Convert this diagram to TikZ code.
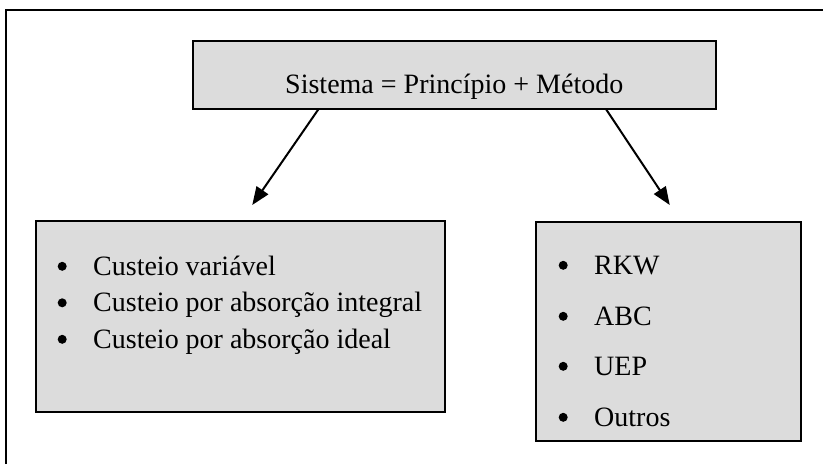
\documentclass[tikz,border=0pt]{standalone}
\usepackage{fontspec}
\setmainfont{Liberation Serif}
\usetikzlibrary{arrows.meta}

\definecolor{cinza}{RGB}{220,220,220}
\newcommand{\marca}{\makebox[36pt][l]{\hspace{0.5pt}\tikz[baseline=-8.7pt]\fill (0,0) circle (4.5pt);}}
\tikzset{
  caixa/.style={draw, line width=1.5pt, fill=cinza, inner sep=0pt, anchor=north west},
  linha/.style={anchor=base west, inner sep=0pt, font=\fontsize{28}{34}\selectfont},
  seta/.style={-{Triangle[length=18pt,width=14pt]}, line width=2pt}
}

\begin{document}
\begin{tikzpicture}[x=1pt,y=-1pt]
\useasboundingbox (0,0) rectangle (823,464);
% moldura
\draw[line width=2pt] (5.5,464) -- (5.5,9.5) -- (823,9.5);
% caixas
\node[caixa, minimum width=523pt, text height=53pt, text depth=15pt,
  font=\fontsize{28}{34}\selectfont] (sistema) at (192,40) {Sistema = Princípio + Método};
\node[caixa, minimum width=409pt, minimum height=191pt] (principio) at (35,220) {};
\node[caixa, minimum width=265pt, minimum height=219pt] (metodo) at (535,221) {};
% itens
\node[linha] (variavel) at (57,275) {\marca Custeio variável};
\node[linha] (integral) at (57,311.5) {\marca Custeio por absorção integral};
\node[linha] (ideal) at (57,348) {\marca Custeio por absorção ideal};
\node[linha] (rkw) at (558,274) {\marca RKW};
\node[linha] (abc) at (558,325) {\marca ABC};
\node[linha] (uep) at (558,375) {\marca UEP};
\node[linha] (outros) at (558,426) {\marca Outros};
% setas
\draw[seta] ([xshift=-136pt]sistema.south) -- ([xshift=12pt,yshift=15pt]principio.north);
\draw[seta] ([xshift=152pt]sistema.south) -- ([xshift=1.5pt,yshift=16pt]metodo.north);
\end{tikzpicture}
\end{document}
